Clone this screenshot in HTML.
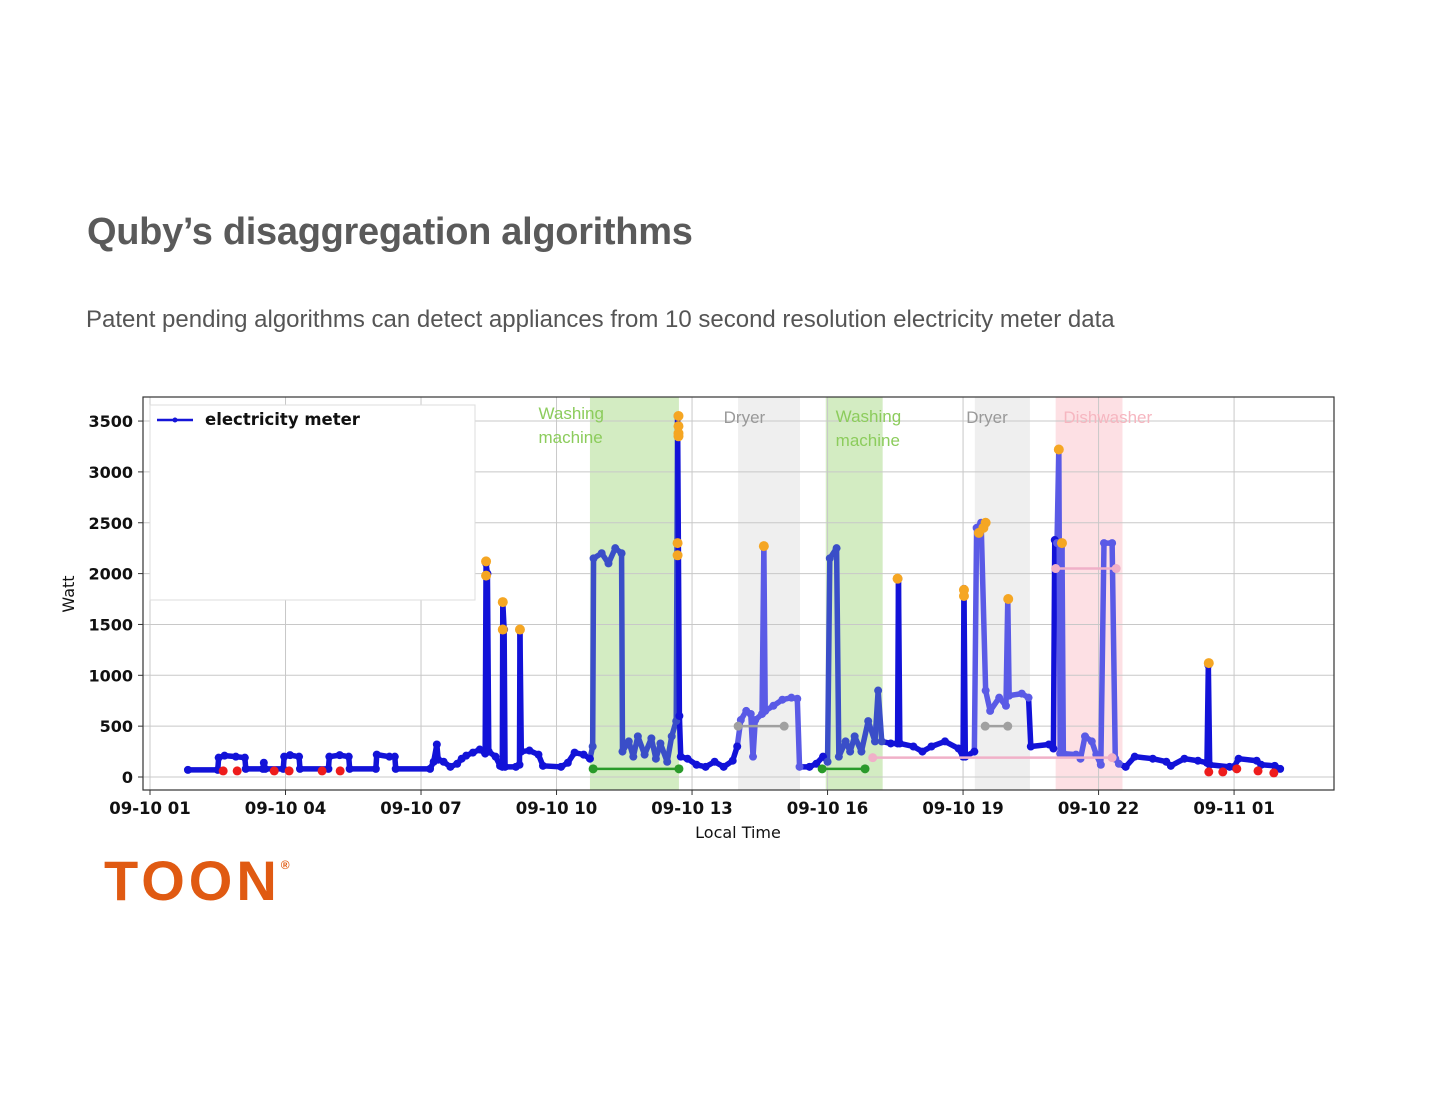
<!DOCTYPE html>
<html><head><meta charset="utf-8"><style>
body{margin:0;background:#fff;width:1440px;height:1114px;overflow:hidden;font-family:"Liberation Sans",sans-serif;}
#title{position:absolute;left:87px;top:211px;font-size:38px;font-weight:bold;color:#5a5a5a;letter-spacing:-0.3px}
#sub{position:absolute;left:86px;top:306px;font-size:24px;color:#555}
#logo{position:absolute;left:104px;top:848px;font-size:56px;font-weight:bold;color:#e05a12;letter-spacing:4px}
#logo sup{font-size:12px;vertical-align:top;position:relative;top:10px;letter-spacing:0}
svg{position:absolute;left:0;top:0}
</style></head><body>
<div id="title">Quby’s disaggregation algorithms</div>
<div id="sub">Patent pending algorithms can detect appliances from 10 second resolution electricity meter data</div>
<div id="logo">TOON<sup>®</sup></div>
<svg id="chart" width="1440" height="1114"></svg>
<script>
const xTickLabels=["09-10 01","09-10 04","09-10 07","09-10 10","09-10 13","09-10 16","09-10 19","09-10 22","09-11 01"];
const xTickHours=[1,4,7,10,13,16,19,22,25];
const yTicks=[0,500,1000,1500,2000,2500,3000,3500];
const meterPoints=[[1.84,70],[2.5,70],[2.52,190],[2.65,210],[2.9,200],[3.1,190],[3.12,80],[3.5,80],[3.52,140],[3.55,80],[3.95,80],[3.97,200],[4.1,215],[4.3,200],[4.32,80],[4.95,80],[4.97,200],[5.2,215],[5.4,200],[5.42,80],[6.0,80],[6.02,220],[6.3,200],[6.42,200],[6.44,80],[7.2,80],[7.28,150],[7.35,320],[7.38,170],[7.5,150],[7.65,100],[7.8,130],[7.9,180],[8.0,210],[8.15,240],[8.3,270],[8.42,230],[8.44,2100],[8.47,2000],[8.5,250],[8.65,200],[8.75,110],[8.8,100],[8.81,1720],[8.84,1450],[8.86,100],[9.1,100],[9.18,120],[9.19,1450],[9.22,250],[9.4,260],[9.6,220],[9.7,110],[10.1,100],[10.25,140],[10.4,240],[10.6,220],[10.74,180],[10.8,300],[10.82,2150],[11.0,2200],[11.15,2100],[11.3,2250],[11.44,2200],[11.46,250],[11.6,350],[11.7,200],[11.8,400],[11.95,220],[12.1,380],[12.2,180],[12.3,330],[12.45,150],[12.55,400],[12.65,550],[12.68,3550],[12.72,600],[12.75,200],[12.9,180],[13.1,120],[13.3,100],[13.5,150],[13.7,100],[13.9,160],[14.0,300],[14.08,560],[14.2,650],[14.3,620],[14.35,200],[14.4,560],[14.55,620],[14.59,2270],[14.62,650],[14.8,700],[15.0,760],[15.2,780],[15.33,770],[15.38,100],[15.6,100],[15.75,130],[15.9,200],[16.0,150],[16.05,2150],[16.2,2250],[16.25,200],[16.4,350],[16.5,250],[16.6,400],[16.75,250],[16.9,550],[17.05,350],[17.12,850],[17.2,350],[17.4,330],[17.55,330],[17.57,1950],[17.6,330],[17.9,300],[18.1,250],[18.3,300],[18.6,350],[18.9,280],[19.0,200],[19.02,1850],[19.05,200],[19.25,250],[19.3,2450],[19.4,2500],[19.5,850],[19.6,650],[19.8,780],[19.95,700],[19.99,1750],[20.02,800],[20.3,820],[20.45,780],[20.5,300],[20.9,320],[21.0,280],[21.03,2330],[21.08,2300],[21.12,3220],[21.15,230],[21.19,2300],[21.22,230],[21.5,220],[21.6,180],[21.7,400],[21.85,350],[21.95,220],[22.05,120],[22.12,2300],[22.3,2300],[22.37,180],[22.45,130],[22.6,100],[22.8,200],[23.2,180],[23.5,150],[23.6,110],[23.9,180],[24.2,160],[24.4,140],[24.43,1100],[24.46,120],[24.9,100],[25.0,100],[25.1,180],[25.5,160],[25.6,120],[25.9,110],[26.02,80]];
const orangeH=[8.44,8.44,8.81,8.81,9.19,12.7,12.7,12.7,12.7,12.68,12.68,14.59,17.55,19.02,19.02,19.35,19.45,19.5,20.0,21.12,21.19,24.44];
const orangeW=[2120,1980,1720,1450,1450,3550,3450,3380,3350,2300,2180,2270,1950,1840,1780,2400,2450,2500,1750,3220,2300,1120];
const windowsStart=[10.74,14.02,15.96,19.26,21.05];
const windowsEnd=[12.71,15.39,17.22,20.48,22.53];
const windowsLabel=["Washing|machine","Dryer","Washing|machine","Dryer","Dishwasher"];
const windowsKind=["wash","dry","wash","dry","dish"];
const labelH=[9.6,13.7,16.18,19.07,21.22];
const redH=[2.62,2.93,3.75,4.08,4.81,5.21,24.44,24.75,25.06,25.53,25.88];
const redW=[60,60,60,60,60,60,50,50,80,60,40];
const detStart=[10.81,15.88,14.02,19.49,17.0,21.05];
const detEnd=[12.71,16.83,15.04,19.99,22.3,22.39];
const detW=[80,80,500,500,190,2050];
const detKind=["wash","wash","dry","dry","dish","dish"];

const svg=document.getElementById('chart');const NS="http://www.w3.org/2000/svg";
const L=143,R=1334,T=397,B=790;
const AX='"DejaVu Sans",sans-serif';
const X=h=>150+(h-1)*45.17, Y=w=>777-w*0.1017;
function mk(t,a,p){const e=document.createElementNS(NS,t);for(const k in a)e.setAttribute(k,a[k]);(p||svg).appendChild(e);return e;}
const shade={wash:"#d3ecc2",dry:"#efefef",dish:"#fde0e4"}, lab={wash:"#8ccc5c",dry:"#999",dish:"#f6b6c0"};
windowsStart.forEach((s,i)=>{const r=mk('rect',{x:X(s),y:T,width:X(windowsEnd[i])-X(s),height:B-T,fill:shade[windowsKind[i]]});

});
yTicks.forEach(v=>{mk('line',{x1:L,x2:R,y1:Y(v),y2:Y(v),stroke:"#c8c8c8","stroke-width":1});
mk('line',{x1:L-5,x2:L,y1:Y(v),y2:Y(v),stroke:"#333"});
const t=mk('text',{x:L-10,y:Y(v)+6,"text-anchor":"end","font-size":16,"font-weight":"bold","font-family":AX,fill:"#111"});t.textContent=v;

});
xTickHours.forEach((h,i)=>{mk('line',{x1:X(h),x2:X(h),y1:T,y2:B,stroke:"#c8c8c8"});
mk('line',{x1:X(h),x2:X(h),y1:B,y2:B+5,stroke:"#333"});
const t=mk('text',{x:X(h),y:B+24,"text-anchor":"middle","font-size":16.5,"font-weight":"bold","font-family":AX,fill:"#111"});t.textContent=xTickLabels[i];

});
windowsStart.forEach((s,i)=>{const k=windowsKind[i];windowsLabel[i].split('|').forEach((ln,j)=>{const t=mk('text',{x:X(labelH[i]),y:(k=="wash"?(i==0?419:422):423)+j*24,"font-size":17,fill:lab[k]});t.textContent=ln;

});});
const lg=mk('rect',{x:150,y:405,width:325,height:195,fill:"#fff",stroke:"#ddd"});


mk('line',{x1:157,x2:193,y1:420,y2:420,stroke:"#1515d8","stroke-width":2.5});mk('circle',{cx:175,cy:420,r:2.5,fill:"#1515d8"});
const lt=mk('text',{x:205,y:425,"font-size":16.5,"font-weight":"bold","font-family":AX,fill:"#111"});lt.textContent="electricity meter";


function col(h){for(let i=0;i<windowsStart.length;i++)if(h>windowsStart[i]&&h<=windowsEnd[i])return windowsKind[i]=="wash"?"#3a4ec8":"#5a5ae6";return "#1212d8";}
const g=mk('g',{});


for(let i=1;i<meterPoints.length;i++){const a=meterPoints[i-1],b=meterPoints[i];
mk('line',{x1:X(a[0]),y1:Y(a[1]),x2:X(b[0]),y2:Y(b[1]),stroke:col(b[0]),"stroke-width":5.5,"stroke-linecap":"round"},g);}
meterPoints.forEach(p=>{const c=mk('circle',{cx:X(p[0]),cy:Y(p[1]),r:4,fill:col(p[0])},g);

});
const dc={wash:"#2a9a2a",dry:"#a0a0a0",dish:"#f0b0c8"};
detStart.forEach((s,i)=>{const c=dc[detKind[i]];mk('line',{x1:X(s),x2:X(detEnd[i]),y1:Y(detW[i]),y2:Y(detW[i]),stroke:c,"stroke-width":2.5});
[s,detEnd[i]].forEach(h=>{const d=mk('circle',{cx:X(h),cy:Y(detW[i]),r:4.5,fill:c});

});});
redH.forEach((h,i)=>{const d=mk('circle',{cx:X(h),cy:Y(redW[i]),r:4.5,fill:"#ee1c1c"});

});
orangeH.forEach((h,i)=>{const d=mk('circle',{cx:X(h),cy:Y(orangeW[i]),r:5,fill:"#f5a623"});

});
mk('rect',{x:L,y:T,width:R-L,height:B-T,fill:"none",stroke:"#333","stroke-width":1.2});
const xl=mk('text',{x:738,y:838,"text-anchor":"middle","font-size":16,"font-family":AX,fill:"#111"});xl.textContent="Local Time";


const yl=mk('text',{x:74,y:594,"text-anchor":"middle","font-size":16,"font-family":AX,fill:"#111",transform:"rotate(-90 74 594)"});yl.textContent="Watt";


</script>
</body></html>
